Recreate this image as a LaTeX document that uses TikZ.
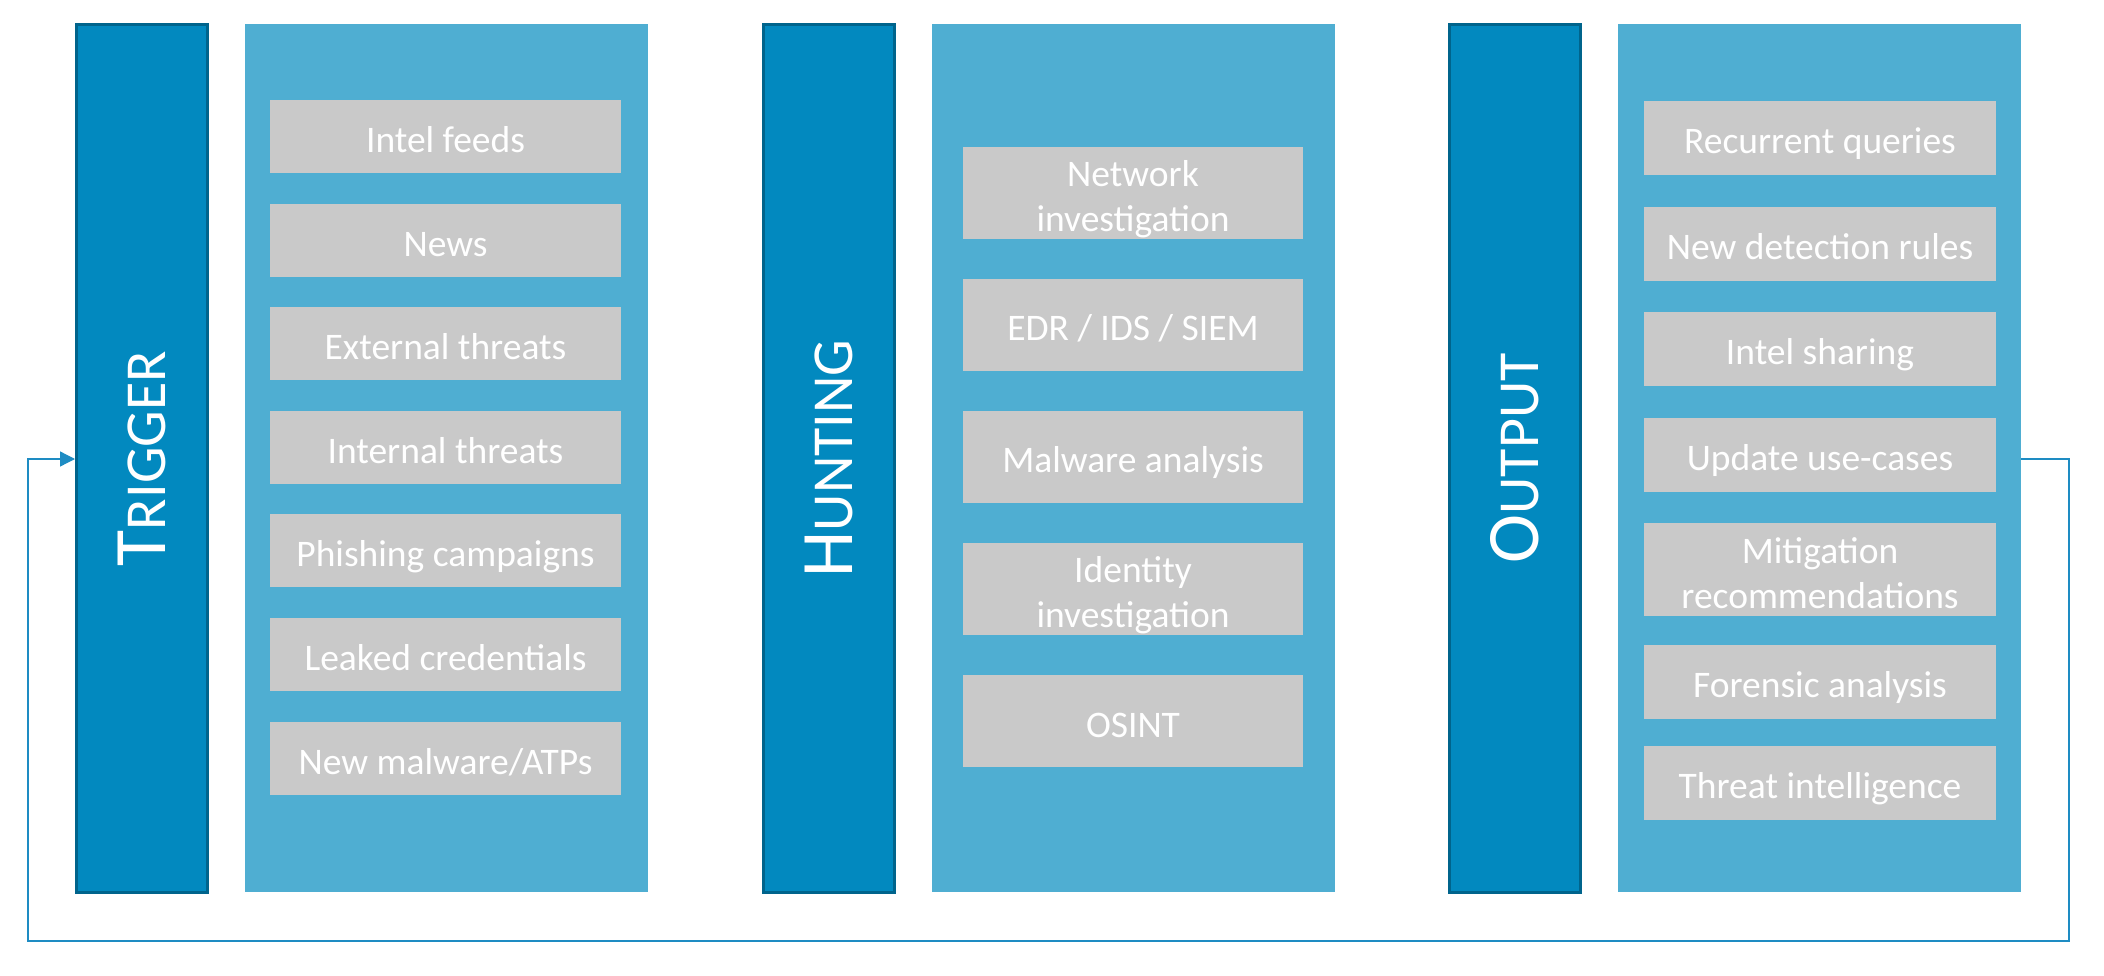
\documentclass[tikz,border=0pt]{standalone}
\usepackage{fontspec}
\setmainfont{Carlito}
\usetikzlibrary{arrows.meta}
\definecolor{barfill}{RGB}{2,137,191}
\definecolor{barline}{RGB}{0,100,140}
\definecolor{panelfill}{RGB}{79,174,210}
\definecolor{itemfill}{RGB}{201,201,201}
\definecolor{loopcol}{RGB}{30,140,195}
\newcommand\lnstrut{\rule[-6pt]{0pt}{44pt}}
\newcommand\bigT[2]{{\fontsize{74}{74}\selectfont #1}{\fontsize{58}{58}\selectfont #2}}
\begin{document}
\begin{tikzpicture}[x=1pt,y=-1pt,
  phasebar/.style={draw=barline, line width=2.7pt, fill=barfill, minimum width=131.3pt, minimum height=868.3pt, inner sep=0pt, outer sep=0pt},
  panel/.style={fill=panelfill, minimum width=403pt, minimum height=868pt, inner sep=0pt, outer sep=0pt, anchor=north west},
  item/.style={fill=itemfill, text=white, font=\fontsize{37.5}{45}\selectfont, align=center, inner sep=0pt, outer sep=0pt, anchor=north west},
  titletext/.style={text=white, rotate=90, inner sep=0pt},
  fb/.style={draw=loopcol, line width=1.3pt}
]
\useasboundingbox[fill=white] (0,0) rectangle (2104,976);

% ---- TRIGGER ----
\node[phasebar] (tbar) at (142,458.5) {};
\node[titletext] (ttitle) at (tbar.center) {\bigT{T}{RIGGER}};
\node[panel] (tpanel) at (245,24) {};
\begin{scope}[every node/.style={item, minimum width=351pt, minimum height=73pt}]
\node (t1) at (270,100) {\lnstrut Intel feeds};
\node (t2) at (270,203.6) {\lnstrut News};
\node (t3) at (270,307.2) {\lnstrut External threats};
\node (t4) at (270,410.8) {\lnstrut Internal threats};
\node (t5) at (270,514.4) {\lnstrut Phishing campaigns};
\node (t6) at (270,618) {\lnstrut Leaked credentials};
\node (t7) at (270,721.6) {\lnstrut New malware/ATPs};
\end{scope}

% ---- HUNTING ----
\node[phasebar] (hbar) at (829,458.5) {};
\node[titletext] (htitle) at (hbar.center) {\bigT{H}{UNTING}};
\node[panel] (hpanel) at (932,24) {};
\begin{scope}[every node/.style={item, minimum width=340pt, minimum height=92pt}]
\node (h1) at (963,147) {\lnstrut Network\\\lnstrut investigation};
\node (h2) at (963,279) {\lnstrut EDR / IDS / SIEM};
\node (h3) at (963,411) {\lnstrut Malware analysis};
\node (h4) at (963,543) {\lnstrut Identity\\\lnstrut investigation};
\node (h5) at (963,675) {\lnstrut OSINT};
\end{scope}

% ---- OUTPUT ----
\node[phasebar] (obar) at (1515,458.5) {};
\node[titletext] (otitle) at (obar.center) {\bigT{O}{UTPUT}};
\node[panel] (opanel) at (1618,24) {};
\begin{scope}[every node/.style={item, minimum width=352pt, minimum height=74pt}]
\node (o1) at (1644,101) {\lnstrut Recurrent queries};
\node (o2) at (1644,207) {\lnstrut New detection rules};
\node (o3) at (1644,312) {\lnstrut Intel sharing};
\node (o4) at (1644,418) {\lnstrut Update use-cases};
\node[minimum height=93pt] (o5) at (1644,523) {\lnstrut Mitigation\\\lnstrut recommendations};
\node (o6) at (1644,645) {\lnstrut Forensic analysis};
\node (o7) at (1644,746) {\lnstrut Threat intelligence};
\end{scope}

% ---- feedback loop ----
\coordinate (ay) at (0,459);
\coordinate (c1) at (2069,941);
\coordinate (c2) at (28,941);
\draw[fb, -{Triangle[length=15pt,width=15pt]}] (opanel.east |- ay) -| (c1) -| (c2) |- ([xshift=-1.35pt]tbar.west |- ay);
\end{tikzpicture}
\end{document}
